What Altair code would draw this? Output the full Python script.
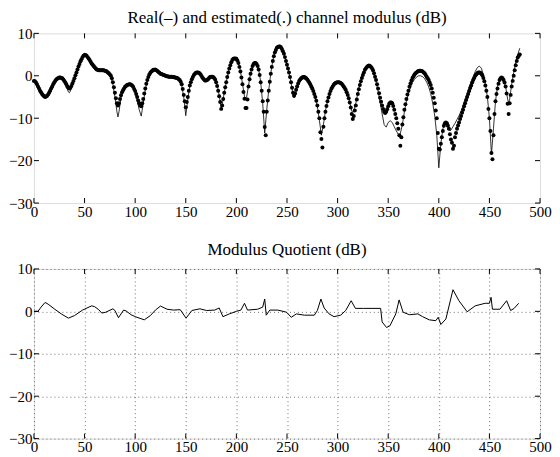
import altair as alt
import pandas as pd

# ---------------- data ----------------
# estimated channel modulus (dB), one value per sample index 0..480 (the dots)
est_db = [
    -1.2, -1.3, -1.6, -2.0, -2.5, -3.0, -3.5, -3.9, -4.3, -4.6,
    -4.8, -5.0, -4.9, -4.7, -4.4, -4.0, -3.5, -3.0, -2.5, -2.0,
    -1.6, -1.2, -0.9, -0.7, -0.5, -0.4, -0.4, -0.5, -0.6, -0.9,
    -1.2, -1.6, -2.0, -2.5, -2.8, -3.0, -2.8, -2.4, -1.8, -1.2,
    -0.6, 0.1, 0.8, 1.5, 2.2, 2.8, 3.4, 3.9, 4.4, 4.7,
    4.9, 4.9, 4.7, 4.4, 4.1, 3.7, 3.3, 2.9, 2.6, 2.3,
    2.0, 1.7, 1.5, 1.4, 1.3, 1.3, 1.3, 1.3, 1.3, 1.3,
    1.2, 1.1, 1.0, 0.8, 0.6, 0.3, 0.0, -0.6, -1.5, -2.7,
    -4.0, -5.3, -6.5, -7.0, -6.5, -5.5, -4.6, -3.9, -3.4, -3.0,
    -2.6, -2.4, -2.2, -2.1, -2.0, -2.0, -2.1, -2.3, -2.6, -3.1,
    -3.6, -4.3, -5.0, -5.8, -6.5, -7.0, -7.2, -6.5, -5.5, -4.2,
    -3.0, -1.9, -1.0, -0.3, 0.3, 0.7, 1.0, 1.2, 1.4, 1.4,
    1.4, 1.3, 1.1, 0.9, 0.7, 0.5, 0.4, 0.3, 0.2, 0.1,
    0.0, -0.1, -0.1, -0.2, -0.2, -0.2, -0.2, -0.3, -0.3, -0.4,
    -0.4, -0.5, -0.6, -0.8, -1.0, -1.4, -2.0, -3.1, -4.5, -6.0,
    -7.4, -6.2, -5.0, -3.5, -2.3, -1.5, -0.8, -0.3, 0.2, 0.5,
    0.7, 0.8, 0.8, 0.7, 0.5, 0.2, -0.2, -0.6, -0.9, -1.1,
    -1.1, -1.0, -0.8, -0.5, -0.3, -0.2, -0.2, -0.3, -0.5, -0.9,
    -1.5, -2.4, -3.5, -4.8, -6.2, -7.8, -7.0, -5.5, -4.0, -2.7,
    -1.5, -0.3, 0.8, 1.7, 2.5, 3.2, 3.7, 4.0, 4.1, 4.1,
    4.0, 3.6, 3.0, 2.1, 1.0, -0.4, -2.0, -3.8, -5.4, -7.6,
    -7.6, -5.6, -2.5, -0.8, 0.5, 1.5, 2.3, 2.8, 3.0, 3.0,
    2.8, 2.3, 1.5, 0.2, -1.5, -3.5, -6.0, -8.5, -12.1, -14.0,
    -8.5, -5.8, -3.5, -1.4, 0.5, 2.1, 3.5, 4.6, 5.5, 6.1,
    6.6, 6.8, 6.9, 6.9, 6.7, 6.3, 5.8, 5.2, 4.4, 3.5,
    2.6, 1.7, 0.8, -0.3, -1.5, -2.8, -4.0, -4.7, -4.2, -3.3,
    -2.5, -1.8, -1.2, -0.9, -0.6, -0.4, -0.3, -0.3, -0.4, -0.6,
    -0.9, -1.2, -1.6, -2.0, -2.5, -3.0, -3.6, -4.3, -5.0, -5.9,
    -7.0, -8.5, -10.0, -13.3, -14.9, -16.9, -12.0, -10.0, -8.5, -7.1,
    -6.0, -5.1, -4.3, -3.6, -3.0, -2.6, -2.2, -1.9, -1.7, -1.6,
    -1.5, -1.5, -1.6, -1.7, -1.9, -2.2, -2.5, -2.9, -3.3, -3.9,
    -4.5, -5.3, -6.3, -7.5, -9.0, -10.2, -9.5, -8.2, -7.0, -5.6,
    -4.3, -3.2, -2.2, -1.3, -0.5, 0.2, 0.8, 1.4, 1.8, 2.1,
    2.3, 2.4, 2.3, 2.1, 1.8, 1.3, 0.6, -0.2, -1.0, -2.0,
    -3.0, -4.1, -5.2, -6.1, -7.0, -7.8, -8.5, -8.8, -8.5, -7.9,
    -7.2, -6.6, -6.3, -6.3, -6.5, -7.1, -8.0, -9.0, -10.0, -11.2,
    -12.5, -14.0, -16.5, -14.5, -11.5, -9.8, -8.0, -6.7, -5.5, -4.4,
    -3.5, -2.6, -1.8, -1.1, -0.5, -0.1, 0.3, 0.6, 0.8, 1.0,
    1.1, 1.2, 1.2, 1.1, 1.0, 0.8, 0.6, 0.2, -0.2, -0.6,
    -1.0, -1.6, -2.2, -3.0, -4.0, -5.2, -6.5, -8.2, -10.0, -13.5,
    -17.2, -17.4, -16.0, -14.5, -13.0, -11.8, -11.2, -11.0, -11.2, -11.8,
    -12.5, -13.8, -15.0, -15.8, -17.2, -16.5, -14.5, -13.5, -12.5, -11.7,
    -11.0, -10.2, -9.5, -8.7, -8.0, -7.2, -6.5, -5.7, -5.0, -4.3,
    -3.6, -2.9, -2.3, -1.6, -1.0, -0.5, 0.0, 0.3, 0.6, 0.8,
    0.8, 0.7, 0.5, 0.1, -0.5, -1.3, -2.3, -3.5, -5.0, -7.8,
    -10.0, -13.0, -18.2, -19.7, -14.0, -9.0, -6.0, -4.3, -3.0, -1.9,
    -1.0, -0.6, -0.4, -0.6, -1.0, -1.6, -2.5, -4.2, -6.6, -9.0,
    -6.5, -4.5, -2.5, -1.2, 0.0, 1.3, 2.5, 3.5, 4.3, 4.7,
    5.0,
]
est_x = list(range(len(est_db)))

# real channel modulus (dB), the thin line
real_x = [0, 2, 4, 6, 8, 10, 12, 14, 16, 18, 20, 22, 24, 26, 28, 30, 32, 34, 35, 36,
          38, 40, 42, 44, 46, 48, 50, 52, 54, 56, 58, 60, 62, 64, 66, 68, 70, 72, 74, 76,
          78, 80, 82, 83, 84, 86, 88, 90, 92, 94, 96, 98, 100, 102, 104, 106, 108, 110, 112, 114,
          116, 118, 120, 122, 124, 126, 128, 130, 132, 134, 136, 138, 140, 142, 144, 146, 148, 150, 152, 154,
          156, 158, 160, 162, 164, 166, 168, 170, 172, 174, 176, 178, 180, 182, 184, 185, 186, 188, 190, 192,
          194, 196, 198, 200, 202, 204, 206, 208, 209, 210, 212, 214, 216, 218, 220, 222, 224, 226, 228, 230,
          232, 234, 236, 238, 240, 242, 244, 246, 248, 250, 252, 254, 256, 257, 258, 260, 262, 264, 266, 268,
          270, 272, 274, 276, 278, 280, 282, 284, 286, 288, 290, 292, 294, 296, 298, 300, 302, 304, 306, 308,
          310, 312, 314, 315, 316, 318, 320, 322, 324, 326, 328, 330, 332, 334, 336, 338, 340, 342, 344, 346,
          348, 350, 352, 354, 356, 358, 360, 361, 362, 364, 366, 368, 370, 372, 374, 376, 378, 380, 382, 384,
          386, 388, 390, 392, 394, 396, 398, 400, 402, 404, 406, 407, 408, 410, 411, 412, 414, 416, 418, 420,
          422, 424, 426, 428, 430, 432, 434, 436, 438, 440, 442, 444, 446, 448, 450, 452, 454, 456, 458, 460,
          462, 464, 466, 468, 469, 470, 472, 474, 476, 478, 480]
real_db = [-1.1, -1.8, -2.8, -3.6, -4.3, -4.7, -4.6, -4.0, -3.1, -2.1, -1.3, -0.7, -0.3, -0.2, -0.5, -1.3, -2.5, -3.8, -4.0, -3.6,
           -2.2, -0.7, 0.9, 2.4, 3.7, 4.8, 5.3, 5.0, 4.2, 3.3, 2.5, 1.9, 1.5, 1.3, 1.3, 1.3, 1.2, 1.0, 0.5, -0.3,
           -2.0, -5.0, -8.5, -9.7, -8.5, -5.2, -3.6, -2.7, -2.2, -2.0, -2.2, -2.8, -4.0, -5.8, -8.0, -9.5, -6.5, -3.3, -1.0, 0.5,
           1.3, 1.7, 1.8, 1.5, 1.0, 0.5, 0.2, 0.0, -0.1, -0.2, -0.2, -0.3, -0.4, -0.6, -1.1, -2.3, -5.0, -9.4, -5.5, -2.4,
           -0.7, 0.3, 0.8, 0.9, 0.6, -0.1, -0.8, -1.0, -0.8, -0.3, -0.1, -0.4, -1.4, -3.3, -6.0, -7.5, -6.8, -4.0, -1.5, 0.8,
           2.5, 3.7, 4.2, 4.1, 3.1, 1.1, -1.8, -4.8, -5.5, -5.2, -2.3, 0.6, 2.4, 3.1, 2.9, 1.6, -1.4, -6.5, -13.5, -8.0,
           -3.3, 0.6, 3.6, 5.6, 6.7, 7.0, 6.8, 5.9, 4.5, 2.7, 0.8, -1.7, -4.5, -5.2, -4.6, -2.8, -1.6, -1.0, -0.7, -0.8,
           -1.2, -1.8, -2.7, -3.8, -5.2, -7.2, -10.5, -14.0, -11.5, -8.3, -6.0, -4.4, -3.2, -2.4, -1.9, -1.7, -1.8, -2.1, -2.7, -3.5,
           -4.6, -6.2, -8.3, -8.6, -8.2, -6.5, -4.1, -2.0, -0.4, 0.9, 1.8, 2.3, 2.3, 1.7, 0.4, -1.4, -3.6, -6.2, -9.0, -11.5,
           -12.1, -11.0, -10.6, -11.0, -12.0, -13.0, -13.8, -14.0, -13.6, -11.5, -8.5, -6.0, -4.2, -2.7, -1.6, -0.8, -0.3, 0.0, 0.0, -0.2,
           -0.7, -1.5, -2.6, -4.2, -6.5, -9.5, -14.0, -21.7, -16.0, -12.5, -11.2, -11.0, -11.3, -12.5, -13.0, -12.8, -12.0, -11.2, -10.3, -9.4,
           -8.3, -7.0, -5.6, -4.2, -2.8, -1.4, -0.2, 1.0, 1.9, 2.3, 1.8, 0.3, -2.0, -5.0, -10.0, -18.5, -12.5, -6.0, -2.5, -0.8,
           -0.4, -1.0, -2.5, -5.5, -6.5, -5.5, -2.0, 0.8, 3.0, 5.0, 6.5]

# modulus quotient (dB)
quot_x = [0, 4, 7, 11, 14, 20, 27, 34, 40, 48, 57, 60, 64, 67, 71, 78, 80, 83.5, 88.6, 91,
          96, 100.6, 109, 115, 120, 125, 131.5, 138, 144.5, 150.3, 156, 164, 170.5, 178.6, 183, 186.7, 193, 200, 204.5, 208,
          211, 221, 226, 228, 229.5, 233, 241, 249.5, 254.3, 259.2, 267.3, 277, 280, 283.5, 286.7, 291.6, 296.5, 303, 308, 313.4,
          317.6, 325.7, 342.5, 344, 348.4, 351.7, 357.5, 360.8, 364.7, 371, 379.3, 384, 390.6, 397, 399.4, 402, 407, 414, 419.9, 428,
          436, 445.8, 450, 451.6, 453, 460.4, 467, 471, 474.4, 478.9]
quot_db = [0.0, 0.0, 1.0, 2.1, 1.7, 0.6, -0.6, -1.6, -1.0, 0.3, 1.3, 1.1, 0.4, -0.4, -0.2, 0.6, 0.2, -1.5, 0.3, 0.1,
           -0.8, -1.3, -2.0, -1.0, 0.3, 1.25, 0.5, 0.3, 0.4, -1.6, 0.2, 0.6, 0.2, 0.3, 0.8, -1.25, -0.6, 0.0, 0.3, 1.9,
           0.3, 0.5, 1.0, 2.9, -0.9, 0.3, 0.3, -0.2, -1.4, -0.6, -0.9, -0.9, 0.2, 2.9, 0.8, -0.6, -1.25, -0.9, 0.2, 2.5,
           0.7, 0.7, 0.7, -2.5, -3.8, -3.4, -0.6, 2.7, -0.2, -0.8, -0.6, -1.25, -2.0, -2.2, -1.4, -3.1, -1.8, 5.1, 2.5, -0.1,
           1.3, 1.9, 1.9, 3.3, 0.5, 0.5, 2.5, 0.2, 0.7, 1.9]

x_ticks = [0, 50, 100, 150, 200, 250, 300, 350, 400, 450, 500]
y_ticks = [-30, -20, -10, 0, 10]

title_top = "Real(–) and estimated(.) channel modulus (dB)"
title_bottom = "Modulus Quotient (dB)"

# ---------------- chart ----------------
W, H = 507, 170
FONT = "Liberation Serif"
TICK = 5

est_df = pd.DataFrame({"x": est_x, "y": est_db})
real_df = pd.DataFrame({"x": real_x, "y": real_db})
quot_df = pd.DataFrame({"x": quot_x, "y": quot_db})
xt_df = pd.DataFrame({"x": x_ticks})
yt_df = pd.DataFrame({"y": y_ticks})

xs = alt.Scale(domain=[0, 500], nice=False, zero=False)
ys = alt.Scale(domain=[-30, 10], nice=False, zero=False)


def axes(grid):
    common = dict(tickSize=0, domain=False, title=None, labelFont=FONT, labelFontSize=15,
                  labelColor="black", grid=grid, gridColor="black", gridDash=[1, 3],
                  gridWidth=0.7, gridOpacity=0.8, labelFlush=False)
    ax = alt.Axis(values=x_ticks, labelPadding=1, **common)
    ay = alt.Axis(values=y_ticks, labelPadding=2, **common)
    return ax, ay


def tick_layers(ax, ay):
    X = alt.X("x:Q", scale=xs, axis=ax)
    Y = alt.Y("y:Q", scale=ys, axis=ay)
    return [
        alt.Chart(xt_df).mark_rule(color="black", strokeWidth=1).encode(
            x=X, y=alt.value(H), y2=alt.value(H - TICK)),
        alt.Chart(xt_df).mark_rule(color="black", strokeWidth=1).encode(
            x=X, y=alt.value(0), y2=alt.value(TICK)),
        alt.Chart(yt_df).mark_rule(color="black", strokeWidth=1).encode(
            y=Y, x=alt.value(0), x2=alt.value(TICK)),
        alt.Chart(yt_df).mark_rule(color="black", strokeWidth=1).encode(
            y=Y, x=alt.value(W), x2=alt.value(W - TICK)),
    ]


ax1, ay1 = axes(False)
real_line = alt.Chart(real_df).mark_line(color="black", strokeWidth=0.8).encode(
    x=alt.X("x:Q", scale=xs, axis=ax1), y=alt.Y("y:Q", scale=ys, axis=ay1))
est_dots = alt.Chart(est_df).mark_circle(color="black", size=16, opacity=1).encode(
    x=alt.X("x:Q", scale=xs, axis=ax1), y=alt.Y("y:Q", scale=ys, axis=ay1))

top = alt.layer(real_line, est_dots, *tick_layers(ax1, ay1)).properties(
    width=W, height=H,
    title=alt.TitleParams(title_top, font=FONT, fontSize=17, fontWeight="normal",
                          color="black", offset=-1, anchor="middle", frame="group"))

ax2, ay2 = axes(True)
quot_line = alt.Chart(quot_df).mark_line(color="black", strokeWidth=1).encode(
    x=alt.X("x:Q", scale=xs, axis=ax2), y=alt.Y("y:Q", scale=ys, axis=ay2))

bottom = alt.layer(quot_line, *tick_layers(ax2, ay2)).properties(
    width=W, height=H,
    title=alt.TitleParams(title_bottom, font=FONT, fontSize=17, fontWeight="normal",
                          color="black", offset=3, anchor="middle", frame="group"))

chart = alt.vconcat(top, bottom, spacing=20).properties(
    padding={"left": 0, "top": 0, "right": 0, "bottom": 0}
).configure_view(stroke="black", strokeWidth=1.2).configure(background="white")

chart.save("out.html", embed_options={"renderer": "svg", "actions": False})
